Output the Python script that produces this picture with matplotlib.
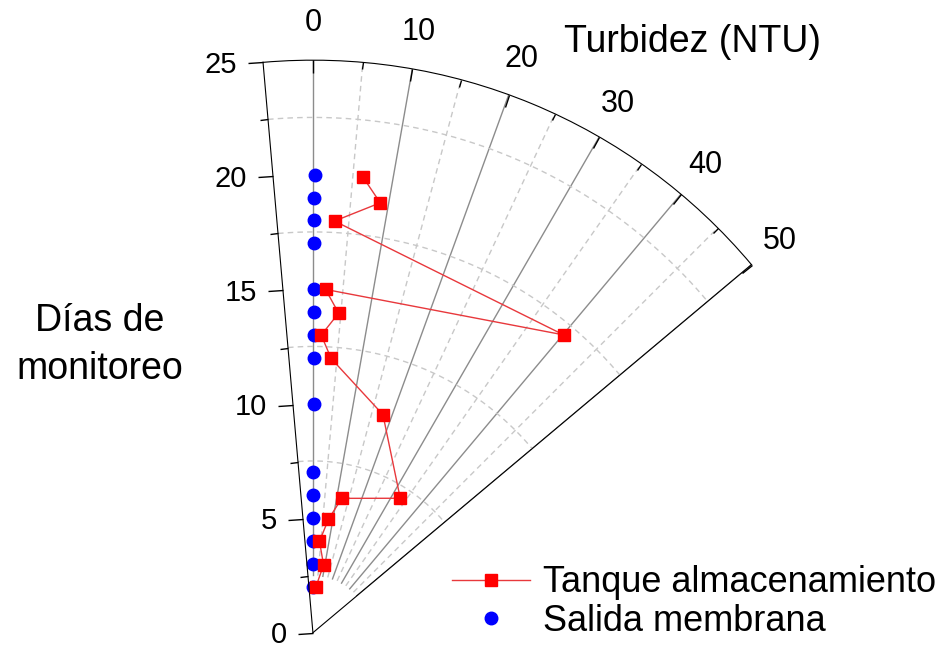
import numpy as np
import matplotlib
matplotlib.use("Agg")
import matplotlib.pyplot as plt
from matplotlib.lines import Line2D

plt.rcParams['font.family'] = ['Liberation Sans', 'DejaVu Sans']

# ---- data ----
dias = [2, 3, 4, 5, 6, 7, 10, 12, 13, 14, 15, 17, 18, 19, 20]
tanque = [3.7, 8.9, 4.1, 7.8, 12.1, 33.0, 17.8, 3.8, 1.6, 4.6, 2.1, 40.1, 3.0, 8.9, 6.3]
salida = [0.2, 0.2, 0.2, 0.2, 0.2, 0.2, 0.2, 0.2, 0.2, 0.2, 0.2, 0.2, 0.2, 0.2, 0.2]
theta_ticks = [0, 10, 20, 30, 40, 50]
r_ticks = [0, 5, 10, 15, 20, 25]
label_tanque = "Tanque almacenamiento"
label_salida = "Salida membrana"

FS_TICK = 21
FS_LAB = 27
FS_LEG = 26
fig = plt.figure(figsize=(9.38, 6.49), dpi=100)
ax = fig.add_axes([0.2325, 0.0251, 0.6166, 0.8912], projection='polar')
ax.set_theta_zero_location('N')
ax.set_theta_direction(-1)
ax.set_thetamin(-5)
ax.set_thetamax(50)
ax.set_ylim(0, 25)
ax.grid(False)

# custom grid
r_in, r_out = 2.5, 25
for t in range(0, 50, 10):
    ax.plot(np.deg2rad([t, t]), [r_in, r_out], color='#8c8c8c', lw=1.0, zorder=1)
for t in range(5, 50, 10):
    ax.plot(np.deg2rad([t, t]), [r_in, r_out], color='#c8c8c8', lw=1.0, ls=(0, (4, 3)), zorder=1)
ax.plot(np.deg2rad([50, 50]), [r_in, r_out], color='#555555', lw=1.0, zorder=1)
arc = np.deg2rad(np.linspace(-5, 50, 300))
for rr in [7.5, 12.5, 17.5, 22.5]:
    ax.plot(arc, np.full_like(arc, rr), color='#c8c8c8', lw=1.0, ls=(0, (4, 3)), zorder=1)

ax.spines['end'].set_visible(False)
ax.spines['polar'].set_color('black')
ax.spines['start'].set_color('black')

# ticks
ax.set_xticks(np.deg2rad(theta_ticks))
ax.set_xticklabels([str(t) for t in theta_ticks])
ax.set_xticks(np.deg2rad([5, 15, 25, 35, 45]), minor=True)
ax.tick_params(axis='x', which='both', bottom=False, top=True, labelbottom=True)
ax.tick_params(axis='x', which='major', direction='in', length=9, width=1, pad=20,
               labelsize=22, color='black')
ax.tick_params(axis='x', which='minor', direction='in', length=5, width=1, color='black')
ax.set_yticks(r_ticks)
ax.set_yticklabels([str(r) for r in r_ticks])
ax.set_yticks([2.5, 7.5, 12.5, 17.5, 22.5], minor=True)
ax.tick_params(axis='y', which='both', left=True, right=False)
ax.tick_params(axis='y', which='major', direction='out', length=11, width=1, pad=8,
               labelsize=FS_TICK, color='black')
ax.tick_params(axis='y', which='minor', direction='out', length=6, width=1, color='black')

# data
ax.plot(np.deg2rad(tanque), dias, color='#e8383c', lw=1.0, marker='s', markersize=8,
        markerfacecolor='#ff0000', markeredgecolor='#ff0000', zorder=3, clip_on=False)
ax.plot(np.deg2rad(salida), dias, ls='none', marker='o', markersize=9,
        markerfacecolor='#0000ff', markeredgecolor='#0000ff', zorder=2, clip_on=False)

fig.text(692 / 938, 1 - 42 / 649, "Turbidez (NTU)", fontsize=FS_LAB, ha='center', va='center')
fig.text(100 / 938, 1 - 345 / 649, "Días de\nmonitoreo", fontsize=FS_LAB, ha='center', va='center',
         linespacing=1.42)

handles = [
    Line2D([], [], color='#e8383c', lw=1.0, marker='s', markersize=8,
           markerfacecolor='#ff0000', markeredgecolor='#ff0000'),
    Line2D([], [], ls='none', marker='o', markersize=9,
           markerfacecolor='#0000ff', markeredgecolor='#0000ff'),
]
fig.legend(handles, [label_tanque, label_salida], loc='lower left',
           bbox_to_anchor=(452 / 938, 1 - 639 / 649), frameon=False, fontsize=FS_LEG,
           handlelength=2.17, handletextpad=0.36, labelspacing=0.1, borderpad=0,
           borderaxespad=0)

fig.savefig("out.png", dpi=100)
